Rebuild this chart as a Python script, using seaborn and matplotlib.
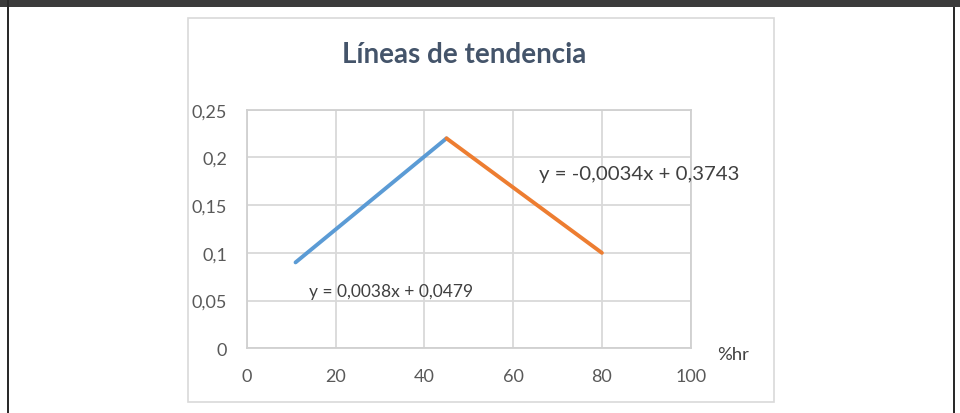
import pandas as pd
import matplotlib.pyplot as plt
import seaborn as sns
from matplotlib.patches import Rectangle

# data
seg_up_x = [11, 45]
seg_up_y = [0.09, 0.22]
seg_down_x = [45, 80]
seg_down_y = [0.22, 0.10]
segment_names = ["subida", "bajada"]
eq_up = "y = 0,0038x + 0,0479"
eq_down = "y = -0,0034x + 0,3743"
x_ticks = [0, 20, 40, 60, 80, 100]
y_ticks = [0, 0.05, 0.1, 0.15, 0.2, 0.25]
y_tick_labels = ["0", "0,05", "0,1", "0,15", "0,2", "0,25"]
title = "Líneas de tendencia"
x_label = "%hr"

sns.set_theme(style="white")
plt.rcParams["font.family"] = ["Lato", "DejaVu Sans"]

df = pd.DataFrame({
    "x": seg_up_x + seg_down_x,
    "y": seg_up_y + seg_down_y,
    "tramo": [segment_names[0]] * len(seg_up_x) + [segment_names[1]] * len(seg_down_x),
})

W, H = 960, 414
fig = plt.figure(figsize=(9.6, 4.14), dpi=100)
fig.patch.set_facecolor("white")

# screenshot frame: dark strip on top, dark side lines
fig.patches.append(Rectangle((0, 1 - 8 / H), 1, 8 / H, transform=fig.transFigure,
                             facecolor="#3b3b3b", edgecolor="none", zorder=-2))
fig.patches.append(Rectangle((7 / W, 0), 2.2 / W, 1, transform=fig.transFigure,
                             facecolor="#2a2a2a", edgecolor="none", zorder=-2))
fig.patches.append(Rectangle((953 / W, 0), 2.2 / W, 1 - 8 / H, transform=fig.transFigure,
                             facecolor="#2a2a2a", edgecolor="none", zorder=-2))
# chart area border
fig.patches.append(Rectangle((188 / W, 1 - 403 / H), (774 - 188) / W, (403 - 19) / H,
                             transform=fig.transFigure, facecolor="white",
                             edgecolor="#d9d9d9", linewidth=1.2, zorder=-2))

ax = fig.add_axes([246.7 / W, 1 - 349.3 / H, (690.7 - 246.7) / W, (349.3 - 110.7) / H])
ax.set_facecolor("none")
ax.set_zorder(2)

sns.lineplot(data=df, x="x", y="y", hue="tramo", palette=["#5B9BD5", "#ED7D31"],
             linewidth=2.8, legend=False, ax=ax, solid_capstyle="round", zorder=3)

ax.set_xlim(0, 100)
ax.set_ylim(0, 0.25)
ax.set_xticks(x_ticks)
ax.set_yticks(y_ticks)
ax.set_yticklabels(y_tick_labels)
ax.grid(True, color="#d9d9d9", linewidth=1.3)
for side in ax.spines:
    ax.spines[side].set_color("#d0d0d0")
    ax.spines[side].set_linewidth(1.3)
ax.tick_params(axis="both", length=0, labelsize=13, colors="#595959")
ax.tick_params(axis="y", pad=14)
ax.tick_params(axis="x", pad=14)
ax.set_xlabel("")
ax.set_ylabel("")

ax.text(14, 0.060, eq_up, fontsize=12.5, color="#404040", va="center", ha="left")
ax.text(65.9, 0.183, eq_down, fontsize=14.7, color="#404040", va="center", ha="left")
ax.text(106, -0.006, x_label, fontsize=13.3, color="#404040", va="center", ha="left",
        clip_on=False)

fig.text(464 / W, 1 - 55 / H, title, fontsize=20, fontweight="bold", color="#44546A",
         ha="center", va="center", zorder=3)

fig.savefig("out.png", dpi=100)
